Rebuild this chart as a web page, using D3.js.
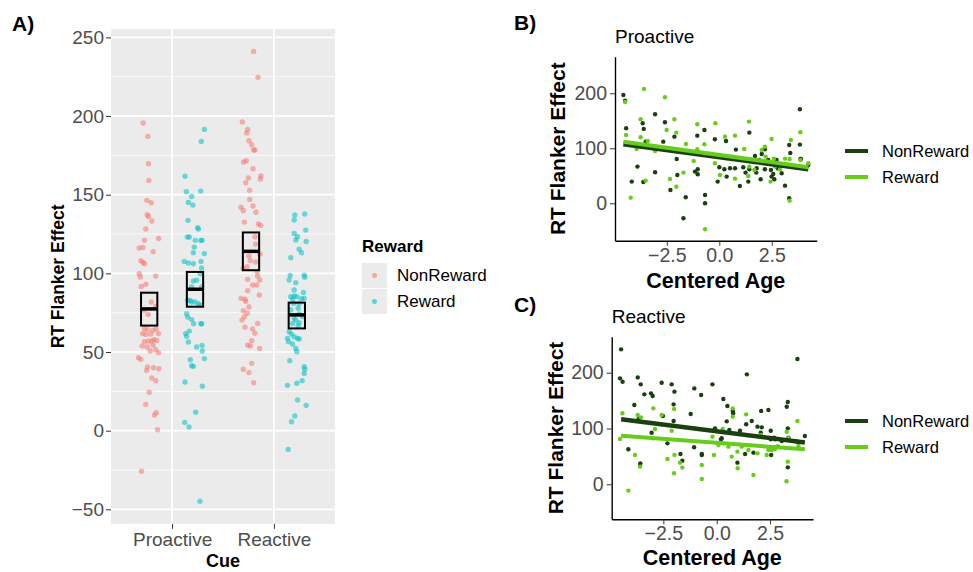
<!DOCTYPE html>
<html><head><meta charset="utf-8">
<script src="https://cdn.jsdelivr.net/npm/d3@7"></script>
<style>body{margin:0;background:#fff}svg{font-family:"Liberation Sans",Arial,Helvetica,sans-serif}</style>
</head><body><svg id="c" width="973" height="572"></svg>
<script>
// ---------- DATA ----------
const cues = ["Proactive", "Reactive"];
const groups = ["NonReward", "Reward"];
const yTicksA = [-50, 0, 50, 100, 150, 200, 250];
const yTicksBC = [0, 100, 200];
const xTicksBC = [-2.5, 0, 2.5];

// Panel A: jittered raw values (value, jitter in category units)
const proNonVals = [195.6,187.1,169.7,159.1,146.4,144.9,137.3,136.2,133.3,128.2,122.2,121.0,116.1,116.5,113.8,108.1,107.0,106.1,99.8,97.7,98.3,91.7,93.0,81.8,79.0,76.5,73.9,64.8,64.2,64.6,63.8,61.7,61.7,61.4,61.2,57.8,57.4,56.6,57.0,56.8,53.8,53.2,54.2,51.5,50.6,49.6,46.4,45.3,40.5,40.0,39.4,38.3,33.5,31.8,24.4,16.7,11.4,9.9,0.6,-25.8];
const proNonJit = [-0.059,-0.013,-0.007,-0.003,-0.023,0.020,-0.020,-0.007,0.026,-0.033,0.092,-0.046,-0.098,-0.062,0.039,-0.082,-0.062,-0.046,-0.098,-0.088,0.065,-0.078,-0.033,0.020,0.065,-0.049,-0.010,-0.046,-0.016,0.069,0.036,-0.065,0.092,0.016,-0.033,0.046,0.075,-0.046,-0.007,0.026,-0.069,-0.020,0.039,0.065,0.010,0.092,-0.105,-0.082,-0.016,0.042,0.095,-0.026,0.026,0.065,0.000,-0.033,0.069,0.052,0.082,-0.075];
const proRewVals = [191.5,183.9,161.7,151.9,152.3,148.9,145.1,143.4,133.7,129.0,128.2,123.1,123.1,121.0,121.0,121.0,116.7,113.1,112.5,107.6,106.6,106.1,107.6,103.4,99.8,95.6,95.1,91.3,91.3,82.8,82.8,81.8,81.8,80.7,79.7,74.4,72.2,70.6,68.0,68.0,68.0,63.3,61.7,60.0,56.4,53.2,54.2,50.6,45.8,45.1,41.3,40.9,30.9,28.2,11.7,5.3,2.3,-44.9];
const proRewJit = [0.092,0.062,-0.098,-0.085,0.056,-0.033,-0.065,-0.020,-0.069,0.026,0.033,-0.075,-0.056,0.003,0.059,0.069,-0.007,-0.016,0.092,-0.105,-0.065,-0.016,0.059,0.065,0.052,0.016,-0.016,-0.033,0.065,-0.072,-0.049,-0.033,0.000,0.033,0.049,-0.082,-0.072,-0.033,-0.013,0.059,0.065,-0.056,-0.092,-0.082,-0.065,0.016,0.069,0.072,0.092,-0.046,-0.033,-0.016,-0.098,0.072,0.007,-0.101,-0.059,0.049];
const reaNonVals = [241.1,224.6,196.2,191.5,189.2,184.3,181.8,178.4,178.4,170.8,171.6,166.5,161.9,160.0,160.6,157.6,152.8,142.0,140.0,142.8,138.8,147.0,132.6,131.4,130.5,123.3,118.6,112.3,111.0,108.1,107.2,101.1,104.2,103.2,98.3,95.8,92.6,96.2,92.6,89.0,86.2,84.1,83.5,82.2,78.6,76.3,74.6,72.5,70.3,68.2,65.7,64.6,61.9,57.2,54.4,53.8,52.3,42.8,39.0,36.9,30.5];
const reaNonJit = [0.026,0.069,-0.085,-0.033,-0.042,-0.020,0.007,0.026,0.039,-0.072,-0.046,0.020,0.098,0.092,-0.026,-0.052,-0.013,-0.098,-0.075,0.020,0.049,-0.013,-0.065,0.072,0.095,0.039,0.046,0.088,-0.020,-0.007,0.046,0.059,-0.039,-0.078,0.065,0.085,0.016,-0.033,0.056,-0.033,0.082,-0.098,-0.059,-0.052,-0.020,-0.075,-0.036,-0.065,-0.088,0.065,-0.059,0.016,0.039,0.007,-0.033,-0.007,0.085,0.007,-0.075,-0.020,0.026];
const reaRewVals = [137.7,137.1,133.9,127.5,125.4,123.3,121.2,120.3,115.3,113.1,110.0,98.7,98.9,97.5,95.8,94.1,89.4,87.9,85.2,85.6,85.2,83.9,83.5,84.1,80.9,80.9,77.8,76.7,74.2,71.4,72.5,70.3,68.6,68.2,66.7,62.9,61.4,59.7,58.7,58.7,58.3,56.6,55.1,52.3,50.2,44.5,40.7,39.0,36.4,31.8,30.1,28.8,19.5,16.1,9.3,5.7,-11.9];
const reaRewJit = [0.078,-0.020,-0.026,0.088,-0.026,0.007,-0.010,0.092,0.023,0.046,-0.059,-0.065,0.072,0.078,-0.075,-0.010,-0.026,0.065,-0.059,-0.026,0.000,0.046,-0.042,0.072,-0.033,0.023,0.013,-0.059,0.023,-0.026,0.056,-0.010,0.023,-0.042,0.013,-0.075,-0.052,-0.026,-0.092,0.007,0.023,-0.082,-0.042,-0.010,0.000,-0.069,0.072,0.078,0.072,0.052,0.000,-0.092,0.007,0.092,-0.020,-0.052,-0.085];

// Panel A summaries (order: Pro-Non, Pro-Rew, Rea-Non, Rea-Rew)
const sumCue = [0, 0, 1, 1];
const sumGroup = [0, 1, 0, 1];
const sumMean = [77.4, 89.9, 114.0, 73.6];
const sumLow = [66.8, 78.8, 102.0, 65.0];
const sumHigh = [87.7, 100.9, 126.0, 81.4];

// Panel B (Proactive): age, RT
const bNonAge = [-4.57,-4.49,-4.44,-3.06,-3.65,-3.60,-2.59,-2.14,-1.05,-0.71,-0.21,0.32,1.43,3.84,3.84,3.86,-3.90,-4.17,-3.62,-3.06,-2.03,-2.00,-2.33,-1.16,-1.03,-1.03,-1.60,-1.71,-0.68,-0.68,-0.08,0.00,0.24,0.35,0.51,0.79,0.75,0.98,1.14,1.38,1.43,1.70,1.78,1.97,2.02,2.17,2.17,2.46,2.49,2.62,2.57,2.78,2.97,3.13,3.33,3.38,3.33,3.89,4.24,-3.51,-2.67,1.90,2.33,2.73,1.25,1.76];
const bNonRT = [197.0,186.7,136.4,161.8,145.5,135.2,147.3,121.2,123.0,133.3,116.4,113.3,128.5,170.9,106.7,80.6,66.7,39.4,38.8,56.4,80.6,51.5,24.2,57.6,61.8,52.7,10.9,-27.3,15.2,0.0,39.4,65.5,61.8,48.5,63.6,97.6,63.6,31.5,65.5,39.4,61.8,86.1,63.6,43.6,89.7,98.2,61.8,60.6,48.5,43.6,53.3,63.6,54.5,32.1,106.1,91.5,9.1,80.6,69.7,112.1,112.1,78.8,78.8,78.8,55.8,55.8];
const bRewAge = [-4.49,-3.59,-2.59,-4.44,-3.75,-3.75,-3.41,-2.51,-2.14,-2.05,-1.59,-1.05,-0.71,-0.19,0.27,0.75,1.41,1.19,2.49,3.86,3.41,-4.22,-2.35,-2.05,-1.71,-1.22,-1.05,-0.68,0.03,0.75,1.38,1.43,1.67,2.17,2.21,2.44,2.60,2.65,3.13,3.35,3.35,3.86,-3.51,-3.06,-3.94,2.02,2.89,0.40,-0.21,4.24];
const bRewRT = [184.2,207.9,192.7,124.2,152.7,120.0,113.3,133.3,152.7,128.5,107.9,143.6,107.3,145.5,121.2,123.0,148.5,98.8,117.0,129.1,115.2,10.3,44.2,30.3,55.8,77.0,98.2,-47.3,51.5,44.8,49.7,66.7,60.6,103.0,84.8,39.4,81.2,66.7,81.2,80.6,4.8,78.8,41.2,95.2,98.8,97.0,61.8,81.8,72.7,72.7];

// Panel C (Reactive): age, RT
const cNonAge = [-4.48,-4.53,-4.41,-3.70,-3.56,-3.39,-3.08,-3.00,-2.58,-2.11,-1.98,-1.05,-0.73,-0.20,0.31,0.50,0.75,1.41,2.08,2.42,3.33,3.28,3.78,-3.86,-3.64,-2.02,-2.02,-2.52,-1.22,-3.05,-4.14,-3.58,-3.59,-2.31,-1.70,-1.61,-1.06,-0.70,-0.70,-0.08,0.20,0.23,0.59,0.97,1.09,1.33,1.64,1.72,1.91,2.06,2.11,2.53,2.53,2.55,2.73,2.86,3.33,3.33,3.36,3.78,4.13,1.38,0.77,0.47,2.69,3.05];
const cNonRT = [241.8,189.9,183.9,191.6,179.1,161.2,163.0,158.2,182.1,179.1,166.0,171.9,160.0,179.1,152.8,140.3,131.3,197.0,131.3,133.1,147.5,139.1,224.5,142.1,118.2,143.3,113.4,122.4,126.0,92.5,62.7,37.6,33.4,73.4,54.3,42.4,66.3,54.3,52.5,100.3,80.6,82.4,97.3,38.8,96.1,54.3,113.4,56.7,103.3,92.5,102.1,96.1,80.6,52.5,80.6,67.5,100.3,30.4,83.6,76.4,86.6,107.5,127.2,112.8,83.6,77.6];
const cRewAge = [-4.42,-4.53,-3.70,-3.55,-2.97,-2.58,-2.00,-2.11,-2.89,-3.83,-2.31,-1.98,-1.72,-1.61,-2.00,-3.59,-4.14,-0.70,-0.70,-1.02,-0.20,-0.13,0.28,0.31,0.75,0.75,0.98,0.97,1.38,1.48,1.72,1.91,2.06,2.42,2.34,2.58,2.73,3.28,3.36,3.33,3.27,3.78,3.83,0.55,1.17,0.08,-3.00,0.70,2.81];
const cRewRT = [127.2,81.2,124.2,120.0,136.1,124.2,134.9,96.1,99.1,52.5,45.4,52.5,38.8,29.9,19.7,31.6,-11.3,34.6,9.6,100.3,85.4,52.5,99.1,73.4,136.1,121.2,28.7,58.5,125.4,61.5,16.7,55.5,88.4,61.5,52.5,61.5,63.3,94.3,82.4,40.6,5.4,113.4,68.7,67.5,67.5,70.4,82.4,49.6,67.5];

// Linear fits: [NonReward, Reward]
const bIntercept = [83.7, 87.9];
const bSlope = [-5.16, -5.28];
const bAgeRange = [-4.57, 4.24];
const cIntercept = [94.9, 74.4];
const cSlope = [-4.80, -2.85];
const cAgeRange = [-4.48, 4.13];

// ---------- DRAW ----------
const svg = d3.select("#c");
const red = "#F8766D", teal = "#00BFC4";
const dark = "#1B4010", light = "#66CD1A";

// Panel A
const xA = d3.scaleLinear().domain([-0.6, 1.6]).range([111, 335]);
const yA = d3.scaleLinear().domain([-59.2, 255.4]).range([523.8, 28.9]);
const dodge = 0.225;
const gA = svg.append("g");
gA.append("rect").attr("x", xA.range()[0]).attr("y", yA.range()[1])
  .attr("width", xA.range()[1] - xA.range()[0]).attr("height", yA.range()[0] - yA.range()[1])
  .attr("fill", "#EBEBEB");
const minorA = d3.range(-25, 255, 50);
gA.selectAll(".mn").data(minorA).join("line")
  .attr("x1", xA.range()[0]).attr("x2", xA.range()[1])
  .attr("y1", d => yA(d)).attr("y2", d => yA(d))
  .attr("stroke", "#fff").attr("stroke-width", 0.8);
gA.selectAll(".mj").data(yTicksA).join("line")
  .attr("x1", xA.range()[0]).attr("x2", xA.range()[1])
  .attr("y1", d => yA(d)).attr("y2", d => yA(d))
  .attr("stroke", "#fff").attr("stroke-width", 1.7);
gA.selectAll(".vj").data([0, 1]).join("line")
  .attr("x1", d => xA(d)).attr("x2", d => xA(d))
  .attr("y1", yA.range()[0]).attr("y2", yA.range()[1])
  .attr("stroke", "#fff").attr("stroke-width", 1.7);

const setsA = [
  {cue: 0, g: 0, v: proNonVals, j: proNonJit},
  {cue: 0, g: 1, v: proRewVals, j: proRewJit},
  {cue: 1, g: 0, v: reaNonVals, j: reaNonJit},
  {cue: 1, g: 1, v: reaRewVals, j: reaRewJit}
];
setsA.forEach(s => {
  const pts = s.v.map((v, i) => ({v, j: s.j[i]}));
  gA.append("g").selectAll("circle").data(pts).join("circle")
    .attr("cx", d => xA(s.cue + (s.g ? dodge : -dodge) + d.j))
    .attr("cy", d => yA(d.v))
    .attr("r", 2.7)
    .attr("fill", s.g ? teal : red).attr("fill-opacity", 0.55);
});
// summary boxes
const boxW = 0.16;
sumMean.forEach((m, i) => {
  const cx = sumCue[i] + (sumGroup[i] ? dodge : -dodge);
  gA.append("rect")
    .attr("x", xA(cx - boxW / 2)).attr("y", yA(sumHigh[i]))
    .attr("width", xA(cx + boxW / 2) - xA(cx - boxW / 2))
    .attr("height", yA(sumLow[i]) - yA(sumHigh[i]))
    .attr("fill", "none").attr("stroke", "#000").attr("stroke-width", 2);
  gA.append("line")
    .attr("x1", xA(cx - boxW / 2)).attr("x2", xA(cx + boxW / 2))
    .attr("y1", yA(m)).attr("y2", yA(m))
    .attr("stroke", "#000").attr("stroke-width", 3.5);
});
// axes A
const axA = gA.append("g").attr("transform", `translate(${xA.range()[0]},0)`)
  .call(d3.axisLeft(yA).tickValues(yTicksA).tickSize(5).tickPadding(2).tickFormat(d => d < 0 ? "\u2212" + Math.abs(d) : d));
axA.select(".domain").remove();
axA.selectAll("line").attr("stroke", "#333");
axA.selectAll("text").attr("fill", "#4D4D4D").attr("font-size", 19).attr("font-family", "Liberation Sans, Arial");
const axAx = gA.append("g").attr("transform", `translate(0,${yA.range()[0]})`)
  .call(d3.axisBottom(xA).tickValues([0, 1]).tickSize(5).tickPadding(4).tickFormat(i => cues[i]));
axAx.select(".domain").remove();
axAx.selectAll("line").attr("stroke", "#333");
axAx.selectAll("text").attr("fill", "#4D4D4D").attr("font-size", 19).attr("font-family", "Liberation Sans, Arial");
svg.append("text").attr("x", (xA.range()[0] + xA.range()[1]) / 2).attr("y", 567)
  .attr("text-anchor", "middle").attr("font-weight", "bold").attr("font-size", 18).text("Cue");
svg.append("text").attr("transform", `translate(64,${(yA.range()[0] + yA.range()[1]) / 2}) rotate(-90)`)
  .attr("text-anchor", "middle").attr("font-weight", "bold").attr("font-size", 17.5).text("RT Flanker Effect");
svg.append("text").attr("x", 12).attr("y", 31).attr("font-weight", "bold").attr("font-size", 21).text("A)");

// Legend A
svg.append("text").attr("x", 362).attr("y", 252).attr("font-weight", "bold").attr("font-size", 17).text("Reward");
groups.forEach((g, i) => {
  const y0 = 263 + i * 26;
  svg.append("rect").attr("x", 362).attr("y", y0).attr("width", 25).attr("height", 25).attr("fill", "#EBEBEB");
  svg.append("circle").attr("cx", 374.5).attr("cy", y0 + 12.5).attr("r", 2.5)
    .attr("fill", i ? teal : red).attr("fill-opacity", 0.6);
  svg.append("text").attr("x", 397).attr("y", y0 + 12.5).attr("dy", "0.35em")
    .attr("font-size", 17).text(g);
});

// Panels B and C
function scatterPanel(cfg) {
  const x = d3.scaleLinear().domain(cfg.xd).range(cfg.xr);
  const y = d3.scaleLinear().domain(cfg.yd).range(cfg.yr);
  const g = svg.append("g");
  const sets = [[cfg.nonAge, cfg.nonRT, dark], [cfg.rewAge, cfg.rewRT, light]];
  sets.forEach(([a, r, col]) => {
    g.append("g").selectAll("circle").data(a.map((v, i) => [v, r[i]])).join("circle")
      .attr("cx", d => x(d[0])).attr("cy", d => y(d[1])).attr("r", 2.2).attr("fill", col);
  });
  const lw = [4.5, 4];
  [0, 1].forEach(k => {
    const line = d3.line().x(d => x(d)).y(d => y(cfg.intercept[k] + cfg.slope[k] * d));
    g.append("path").datum(cfg.ageRange).attr("d", line)
      .attr("stroke", k ? light : dark).attr("stroke-width", lw[k]).attr("fill", "none");
  });
  const ay = g.append("g").attr("transform", `translate(${cfg.xr[0]},0)`)
    .call(d3.axisLeft(y).tickValues(yTicksBC).tickSize(5).tickSizeOuter(0).tickPadding(3));
  const ax = g.append("g").attr("transform", `translate(0,${cfg.yr[0]})`)
    .call(d3.axisBottom(x).tickValues(xTicksBC).tickSize(5).tickSizeOuter(0).tickPadding(2)
      .tickFormat(d => (d < 0 ? "\u2212" : "") + Math.abs(d).toFixed(1)));
  [ay, ax].forEach(a => {
    a.select(".domain").attr("stroke", "#000").attr("stroke-width", 1.4);
    a.selectAll(".tick line").attr("stroke", "#333");
    a.selectAll("text").attr("fill", "#4D4D4D").attr("font-size", 19.5).attr("font-family", "Liberation Sans, Arial");
  });
  svg.append("text").attr("x", cfg.xr[0]).attr("y", cfg.titleY).attr("font-size", 19).text(cfg.title);
  svg.append("text").attr("x", (cfg.xr[0] + cfg.xr[1]) / 2).attr("y", cfg.xTitleY)
    .attr("text-anchor", "middle").attr("font-weight", "bold").attr("font-size", 21.5).text("Centered Age");
  svg.append("text").attr("transform", `translate(${cfg.yTitleX},${(cfg.yr[0] + cfg.yr[1]) / 2}) rotate(-90)`)
    .attr("text-anchor", "middle").attr("font-weight", "bold").attr("font-size", 21).text("RT Flanker Effect");
  svg.append("text").attr("x", 514).attr("y", cfg.tagY).attr("font-weight", "bold").attr("font-size", 21).text(cfg.tag);
  groups.forEach((gname, i) => {
    const ly = cfg.legY + i * 26;
    svg.append("line").attr("x1", 845).attr("x2", 868).attr("y1", ly).attr("y2", ly)
      .attr("stroke", i ? light : dark).attr("stroke-width", 4);
    svg.append("text").attr("x", 882).attr("y", ly).attr("dy", "0.35em").attr("font-size", 16.5).text(gname);
  });
}
scatterPanel({xd: [-4.97, 4.64], xr: [615, 816.7], yd: [-68, 266.5], yr: [240.7, 56.7],
  nonAge: bNonAge, nonRT: bNonRT, rewAge: bRewAge, rewRT: bRewRT,
  intercept: bIntercept, slope: bSlope, ageRange: bAgeRange,
  title: "Proactive", titleY: 43, xTitleY: 288, yTitleX: 565, tag: "B)", tagY: 30, legY: 151});
scatterPanel({xd: [-4.92, 4.51], xr: [611.7, 813], yd: [-62.7, 264.5], yr: [519.3, 336.7],
  nonAge: cNonAge, nonRT: cNonRT, rewAge: cRewAge, rewRT: cRewRT,
  intercept: cIntercept, slope: cSlope, ageRange: cAgeRange,
  title: "Reactive", titleY: 323, xTitleY: 565, yTitleX: 563, tag: "C)", tagY: 312, legY: 421});
</script>
</body></html>
